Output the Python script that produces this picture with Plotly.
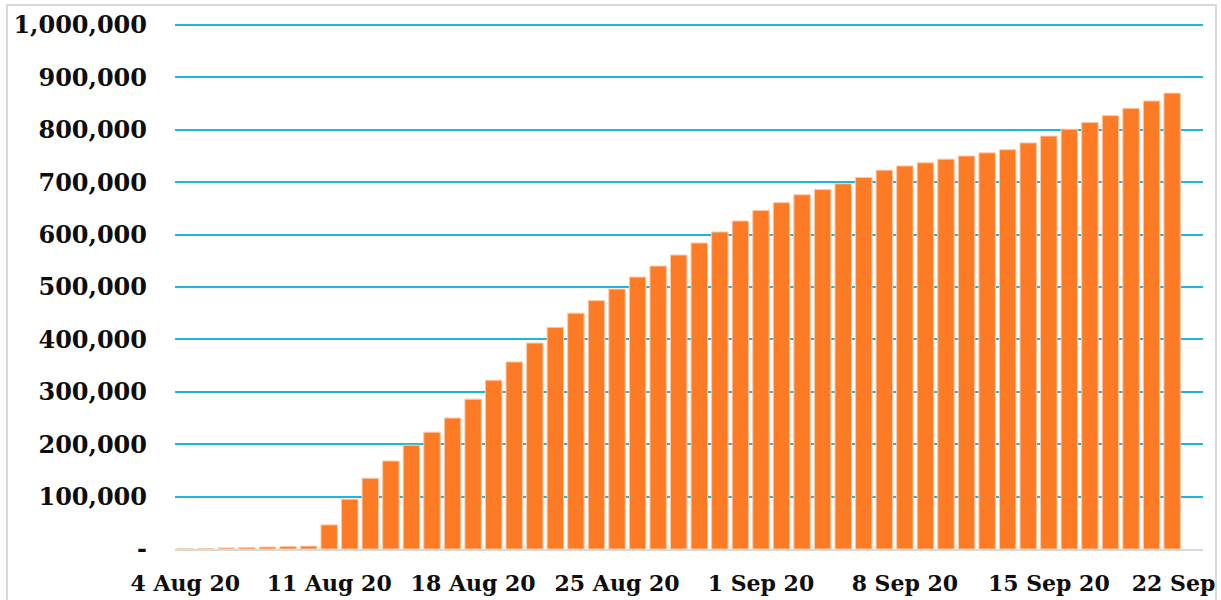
import pandas as pd
import plotly.graph_objects as go

# Cumulative values, 4 Aug 2020 .. 21 Sep 2020 (22 Sep has no bar)
start_date = "2020-08-04"
values = [
    200, 800, 2000, 3000, 3800, 4600, 5500,                      # 4-10 Aug
    46000, 95000, 135000, 168000, 198000, 223000, 250000,         # 11-17 Aug
    286000, 322000, 357000, 393000, 423000, 450000, 474000,       # 18-24 Aug
    496000, 519000, 540000, 561000, 584000, 605000, 626000,       # 25-31 Aug
    646000, 661000, 676000, 686000, 697000, 709000, 723000,       # 1-7 Sep
    731000, 737000, 744000, 750000, 756000, 762000, 775000,       # 8-14 Sep
    788000, 801000, 814000, 827000, 841000, 855000, 870000,       # 15-21 Sep
]
dates = pd.date_range(start_date, periods=len(values), freq="D")

tick_dates = ["2020-08-04", "2020-08-11", "2020-08-18", "2020-08-25",
              "2020-09-01", "2020-09-08", "2020-09-15", "2020-09-22"]
tick_labels = ["4 Aug 20", "11 Aug 20", "18 Aug 20", "25 Aug 20",
               "1 Sep 20", "8 Sep 20", "15 Sep 20", "22 Sep 20"]

y_ticks = [0, 100000, 200000, 300000, 400000, 500000, 600000, 700000, 800000, 900000, 1000000]
y_labels = ["-", "100,000", "200,000", "300,000", "400,000", "500,000", "600,000",
            "700,000", "800,000", "900,000", "1,000,000"]

grid_color = "#1DB6DE"

fig = go.Figure(
    go.Bar(
        x=dates,
        y=values,
        marker=dict(color="#FE7B26", line=dict(color="#FBC8A6", width=1)),
        hoverinfo="x+y",
    )
)

font_family = "DejaVu Serif"

fig.update_layout(
    width=1221,
    height=600,
    margin=dict(l=175, r=18, t=25, b=51),
    paper_bgcolor="white",
    plot_bgcolor="white",
    bargap=0.2,
    showlegend=False,
    xaxis=dict(
        type="date",
        range=["2020-08-03 12:00", "2020-09-22 12:00"],
        tickmode="array",
        tickvals=tick_dates,
        ticktext=tick_labels,
        showgrid=False,
        showline=True,
        linecolor="#D9D9D9",
        linewidth=2,
        ticks="",
        automargin=False,
        ticklabeloverflow="allow",
        ticklabelstandoff=14,
        tickfont=dict(family=font_family, size=22, color="#0D0D0D", weight="bold"),
    ),
    yaxis=dict(
        range=[0, 1000000],
        tickmode="array",
        tickvals=y_ticks,
        ticktext=y_labels,
        showgrid=True,
        gridcolor=grid_color,
        gridwidth=2,
        zeroline=False,
        showline=False,
        ticks="",
        automargin=False,
        ticklabeloverflow="allow",
        ticklabelstandoff=27,
        tickfont=dict(family=font_family, size=24, color="#0D0D0D", weight="bold"),
    ),
    shapes=[
        dict(
            type="rect",
            xref="paper", yref="paper",
            x0=(7 - 175) / 1028, x1=(1216 - 175) / 1028,
            y0=-0.2, y1=1 + 20 / 524,
            line=dict(color="#D9D9D9", width=2),
            fillcolor="rgba(0,0,0,0)",
            layer="below",
        ),
        dict(
            type="line",
            xref="paper", yref="paper",
            x0=0, x1=1, y0=1, y1=1,
            line=dict(color=grid_color, width=2),
            layer="below",
        ),
    ],
)

fig.write_html(
    "out.html",
    config={"displayModeBar": False},
    post_script="document.body.style.margin='0';document.body.style.overflow='hidden';",
)
